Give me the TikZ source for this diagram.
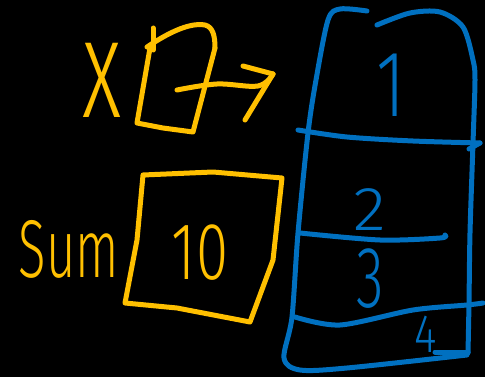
\documentclass[tikz,border=0pt]{standalone}
\usepackage{fontspec}
\setmainfont{Fira Sans Light}
\definecolor{penyellow}{HTML}{FFC000}
\definecolor{penblue}{HTML}{0070C0}
\tikzset{
  ink/.style={line width=5pt, line cap=round, line join=round},
  yink/.style={ink, draw=penyellow},
  bink/.style={ink, draw=penblue},
  ytext/.style={text=penyellow, inner sep=0pt, anchor=base},
  btext/.style={text=penblue, inner sep=0pt, anchor=base},
}
\newcommand{\fsz}[1]{\fontsize{#1}{#1}\selectfont}
\begin{document}
\begin{tikzpicture}[x=1pt,y=-1pt]
\fill[black] (0,0) rectangle (485,377);
\useasboundingbox (0,0) rectangle (485,377);

% labels
\node[ytext, xscale=0.6] (xlab) at (102,118) {\fsz{142}x};
\node[ytext, xscale=0.62] (sumlab) at (69,277) {\fsz{82}Sum};
\node[ytext, xscale=0.72] (sumval) at (200,279) {\fsz{81}10};

% x box (pointer variable)
\draw[yink] (150,48) -- (137,123) -- (163,128) -- (193,132) -- (215,48);
\draw[yink] (147,47) .. controls (165,35) and (188,22) .. (205,25)
  .. controls (213,27) and (215,36) .. (215,48);
\draw[yink] (153,28) -- (153,50);

% sum box
\draw[yink] (143,175) -- (213,172) -- (282,178) -- (273,260) -- (250,322)
  -- (177,308) -- (125,303) -- (137,240) -- cycle;

% arrow from x box
\coordinate (ptrstart) at (177,90);
\coordinate (ptrtip) at (273,74);
\draw[yink] plot[smooth, tension=0.6] coordinates {(ptrstart) (217,84) (258,86) (ptrtip)};
\draw[yink] (243,66) -- (ptrtip);
\draw[yink] (ptrtip) -- (245,120);

% stack outline
\draw[bink] plot[smooth, tension=0.5] coordinates {(367,11) (340,9) (328,20) (316,80) (308,133) (298,233) (292,317) (284,358) (300,370) (347,368) (467,355)};
\draw[bink] plot[smooth, tension=0.5] coordinates {(377,25) (410,13) (440,12) (463,27) (473,60) (475,80) (473,143) (470,233) (469,303) (468,353)};

% dividers
\draw[bink] plot[smooth, tension=0.5] coordinates {(298,130) (347,137) (413,141) (480,143)};
\draw[bink] (480,143) -- (469,149);
\draw[bink] plot[smooth, tension=0.5] coordinates {(300,233) (380,240) (440,238) (445,235)};
\draw[bink] plot[smooth, tension=0.5] coordinates {(295,317) (340,325) (413,310) (467,305) (483,303)};
\draw[bink] (435,352) -- (468,352);

% stack contents
\node[btext, xscale=0.75] (s1) at (391,117) {\fsz{94}1};
\node[btext, xscale=1.1] (s2) at (370,230) {\fsz{62}2};
\node[btext, xscale=0.65] (s3) at (370,307) {\fsz{87}3};
\node[btext, xscale=0.8] (s4) at (426,352) {\fsz{54}4};
\end{tikzpicture}
\end{document}
